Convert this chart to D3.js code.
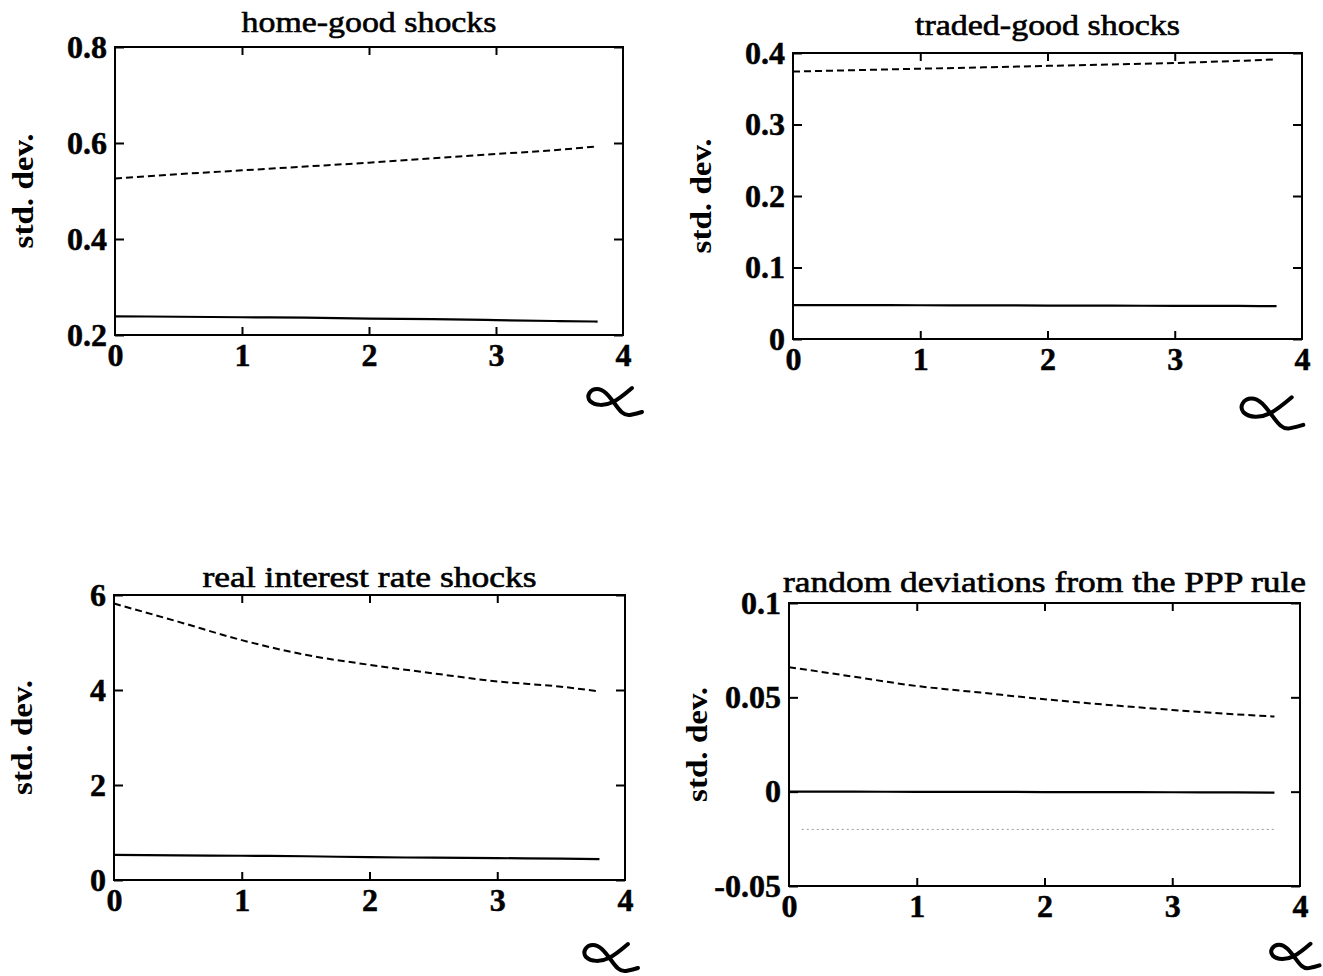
<!DOCTYPE html>
<html>
<head>
<meta charset="utf-8">
<script src="https://cdn.jsdelivr.net/npm/d3@7"></script>
<style>
  body { margin: 0; background: #fff; }
  svg { display: block; }
</style>
</head>
<body>
<div class="svgcontainer"></div>
<script>
const alphaGrid = [0, 0.5, 1, 1.5, 2, 2.5, 3, 3.5, 3.8];
const xTicks = [0, 1, 2, 3, 4];

// home-good shocks
const homeDashed = [0.526, 0.535, 0.543, 0.551, 0.559, 0.568, 0.577, 0.586, 0.593];
const homeSolid = [0.239, 0.238, 0.237, 0.236, 0.234, 0.233, 0.231, 0.229, 0.228];
const homeTicks = [0.2, 0.4, 0.6, 0.8];
const homeLabels = ['0.2', '0.4', '0.6', '0.8'];

// traded-good shocks
const tradedDashed = [0.374, 0.376, 0.378, 0.380, 0.382, 0.384, 0.386, 0.389, 0.391];
const tradedSolid = [0.0475, 0.0474, 0.0472, 0.0470, 0.0468, 0.0466, 0.0464, 0.0462, 0.046];
const tradedTicks = [0, 0.1, 0.2, 0.3, 0.4];
const tradedLabels = ['0', '0.1', '0.2', '0.3', '0.4'];

// real interest rate shocks
const rateDashed = [5.82, 5.44, 5.05, 4.74, 4.53, 4.35, 4.18, 4.07, 3.97];
const rateSolid = [0.53, 0.52, 0.51, 0.50, 0.48, 0.47, 0.46, 0.45, 0.44];
const rateTicks = [0, 2, 4, 6];
const rateLabels = ['0', '2', '4', '6'];

// random deviations from the PPP rule
const pppDashed = [0.066, 0.061, 0.056, 0.0525, 0.049, 0.046, 0.0433, 0.041, 0.0398];
const pppSolid = [0, 0, -0.0001, -0.0001, -0.0002, -0.0002, -0.0003, -0.0004, -0.0005];
const pppDottedX = [0.1, 3.8];
const pppDotted = [-0.02, -0.02];
const pppTicks = [-0.05, 0, 0.05, 0.1];
const pppLabels = ['-0.05', '0', '0.05', '0.1'];

const titles = [
  'home-good shocks',
  'traded-good shocks',
  'real interest rate shocks',
  'random deviations from the PPP rule',
];

const svg = d3
  .select('.svgcontainer')
  .append('svg')
  .attr('width', 1323)
  .attr('height', 976);

const serif = "'Liberation Serif', 'Times New Roman', serif";

const panels = [
  {
    title: titles[0], titleLen: 255, titleY: -15,
    box: {left: 115, top: 47, right: 623, bottom: 335},
    yDomain: [0.2, 0.8], yTicks: homeTicks, yLabels: homeLabels,
    series: [
      {x: alphaGrid, y: homeDashed, kind: 'dashed'},
      {x: alphaGrid, y: homeSolid, kind: 'solid'},
    ],
    alpha: {dx: -36, dy: 51, s: 1.0},
  },
  {
    title: titles[1], titleLen: 265, titleY: -18,
    box: {left: 793, top: 53, right: 1302, bottom: 339},
    yDomain: [0, 0.4], yTicks: tradedTicks, yLabels: tradedLabels,
    series: [
      {x: alphaGrid, y: tradedDashed, kind: 'dashed'},
      {x: alphaGrid, y: tradedSolid, kind: 'solid'},
    ],
    alpha: {dx: -62, dy: 56, s: 1.15},
  },
  {
    title: titles[2], titleLen: 334, titleY: -8,
    box: {left: 114, top: 595, right: 625, bottom: 880},
    yDomain: [0, 6], yTicks: rateTicks, yLabels: rateLabels,
    series: [
      {x: alphaGrid, y: rateDashed, kind: 'dashed'},
      {x: alphaGrid, y: rateSolid, kind: 'solid'},
    ],
    alpha: {dx: -42, dy: 62, s: 1.0},
  },
  {
    title: titles[3], titleLen: 523, titleY: -11,
    box: {left: 789, top: 603, right: 1300, bottom: 886},
    yDomain: [-0.05, 0.1], yTicks: pppTicks, yLabels: pppLabels,
    series: [
      {x: alphaGrid, y: pppDashed, kind: 'dashed'},
      {x: alphaGrid, y: pppSolid, kind: 'solid'},
      {x: pppDottedX, y: pppDotted, kind: 'dotted'},
    ],
    alpha: {dx: -30, dy: 56, s: 0.9},
  },
];

// hand-drawn alpha glyph used as the x-axis label
const alphaPath =
  'M45,2 C38,8 32,13 26,16 C18,20 8,20 3,15 C-1,10 3,3 10,3 ' +
  'C17,3 22,10 28,18 C33,25 37,30 43,29 C48,28 52,27 55,26';

panels.forEach(function(p) {
  const w = p.box.right - p.box.left;
  const h = p.box.bottom - p.box.top;
  const g = svg
    .append('g')
    .attr('transform', `translate(${p.box.left},${p.box.top})`);

  const x = d3.scaleLinear().domain([0, 4]).range([0, w]);
  const y = d3.scaleLinear().domain(p.yDomain).range([h, 0]);

  // frame
  g.append('rect')
    .attr('width', w)
    .attr('height', h)
    .attr('fill', 'none')
    .attr('stroke', '#000')
    .attr('stroke-width', 2);

  const styleAxis = function(sel) {
    sel.select('.domain').remove();
    sel.selectAll('.tick line').attr('stroke', '#000').attr('stroke-width', 2);
    sel.selectAll('text')
      .attr('fill', '#000')
      .attr('stroke', '#000')
      .attr('stroke-width', 0.5)
      .style('font-family', serif)
      .style('font-weight', 'bold')
      .style('font-size', '32px');
  };

  g.append('g')
    .attr('transform', `translate(0,${h})`)
    .call(d3.axisBottom(x).tickValues(xTicks).tickSize(-8).tickPadding(8)
      .tickFormat(d3.format('d')))
    .call(styleAxis)
    .selectAll('.tick')
    .filter(d => d === 0 || d === 4)
    .select('line')
    .remove();

  g.append('g')
    .call(d3.axisTop(x).tickValues([1, 2, 3]).tickSize(-8).tickFormat(''))
    .call(styleAxis);

  g.append('g')
    .call(d3.axisLeft(y).tickValues(p.yTicks).tickSize(-9).tickPadding(8)
      .tickFormat((d, i) => p.yLabels[i]))
    .call(styleAxis);

  g.append('g')
    .attr('transform', `translate(${w},0)`)
    .call(d3.axisRight(y).tickValues(p.yTicks).tickSize(-9).tickFormat(''))
    .call(styleAxis);

  // curves
  const line = d3
    .line()
    .x(d => x(d[0]))
    .y(d => y(d[1]))
    .curve(d3.curveMonotoneX);

  p.series.forEach(function(s) {
    const pts = s.x.map((v, i) => [v, s.y[i]]);
    const path = g.append('path')
      .attr('d', line(pts))
      .attr('fill', 'none');
    if (s.kind === 'dashed') {
      path.attr('stroke', '#000').attr('stroke-width', 2).attr('stroke-dasharray', '7,4');
    } else if (s.kind === 'dotted') {
      path.attr('stroke', '#999').attr('stroke-width', 1).attr('stroke-dasharray', '2,3');
    } else {
      path.attr('stroke', '#000').attr('stroke-width', 2.2);
    }
  });

  // title
  g.append('text')
    .attr('x', w / 2)
    .attr('y', p.titleY)
    .attr('text-anchor', 'middle')
    .attr('textLength', p.titleLen)
    .attr('lengthAdjust', 'spacingAndGlyphs')
    .style('font-family', serif)
    .style('font-size', '30px')
    .attr('stroke', '#000')
    .attr('stroke-width', 0.6)
    .text(p.title);

  // y label
  g.append('text')
    .attr('transform', `translate(-93,${h / 2}) rotate(-90)`)
    .attr('text-anchor', 'middle')
    .attr('dy', '0.35em')
    .attr('textLength', 115)
    .attr('lengthAdjust', 'spacingAndGlyphs')
    .style('font-family', serif)
    .style('font-weight', 'bold')
    .style('font-size', '30px')
    .text('std. dev.');

  // alpha as x label
  g.append('path')
    .attr('transform', `translate(${w + p.alpha.dx},${h + p.alpha.dy}) scale(${p.alpha.s})`)
    .attr('d', alphaPath)
    .attr('fill', 'none')
    .attr('stroke', '#000')
    .attr('stroke-width', 4 / p.alpha.s)
    .attr('stroke-linecap', 'round')
    .attr('stroke-linejoin', 'round');
});
</script>
</body>
</html>
